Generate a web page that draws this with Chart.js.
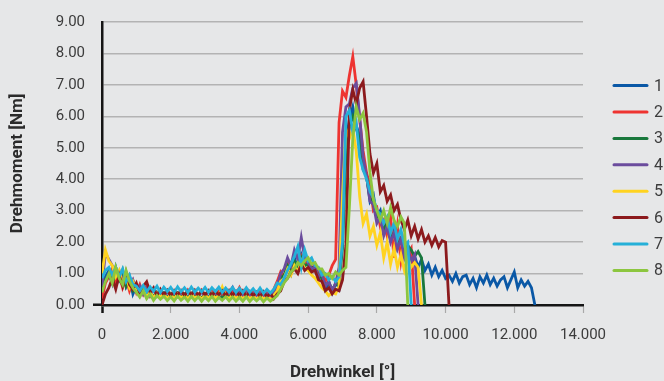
<!DOCTYPE html>
<html>
<head>
<meta charset="utf-8">
<script src="https://cdn.jsdelivr.net/npm/chart.js@4/dist/chart.umd.min.js"></script>
<style>
  html, body { margin: 0; padding: 0; background: #e6e7e8; }
  #wrap { width: 664px; height: 381px; }
</style>
</head>
<body>
<div id="wrap"><canvas id="c" width="664" height="381"></canvas></div>
<script>
// ---- data (torque in Nm, sampled every 100 units of Drehwinkel) ----
const angleStep = 100;
const seriesNames = ["1", "2", "3", "4", "5", "6", "7", "8"];
const seriesColors = ["#0a58a6", "#ee3431", "#19783c", "#6b4c9d", "#ffd320", "#8c1a1d", "#25b0d8", "#8cc63f"];
const xTicks = [0, 2000, 4000, 6000, 8000, 10000, 12000, 14000];
const yTicks = [0, 1, 2, 3, 4, 5, 6, 7, 8, 9];

const s1 = [
  0.3,0.9,1.1,0.7,1.2,0.8,1.05,0.6,0.9,0.35,
  0.6,0.3,0.55,0.25,0.45,0.22,0.4,0.28,0.38,0.2,
  0.35,0.22,0.38,0.25,0.33,0.2,0.36,0.24,0.32,0.21,
  0.34,0.22,0.37,0.25,0.31,0.2,0.35,0.23,0.33,0.22,
  0.32,0.2,0.36,0.22,0.3,0.18,0.33,0.21,0.3,0.2,
  0.4,0.55,0.95,0.8,1.3,1.0,1.5,1.15,1.6,1.3,
  1.35,1.1,1.25,0.85,0.95,0.5,0.75,0.4,0.7,0.55,
  2.5,5.2,5.9,6.3,5.7,5.4,4.3,4.1,3.3,3.5,
  2.8,3.0,2.4,2.7,2.1,2.4,1.8,2.1,1.6,1.8,
  1.3,1.55,1.2,1.45,1.1,1.3,0.95,1.2,0.9,1.1,
  0.85,0.95,0.75,1.0,0.7,0.9,0.95,0.65,0.85,0.55,
  0.9,0.7,0.95,0.65,0.85,0.6,0.8,0.9,0.55,0.8,
  1.05,0.55,0.8,0.6,0.75,0.55,0
];
const s2 = [
  0.2,0.7,0.9,1.15,0.7,1.0,0.55,0.85,0.45,0.75,
  0.4,0.65,0.35,0.6,0.3,0.5,0.33,0.45,0.3,0.42,
  0.3,0.46,0.32,0.45,0.3,0.48,0.33,0.44,0.3,0.47,
  0.32,0.45,0.5,0.3,0.44,0.33,0.47,0.3,0.45,0.34,
  0.55,0.32,0.47,0.3,0.45,0.28,0.42,0.3,0.4,0.28,
  0.5,0.75,1.05,0.9,1.4,1.15,1.35,1.1,1.55,1.3,
  1.45,1.15,1.3,1.0,1.1,0.75,0.95,1.25,1.45,5.8,
  6.8,6.6,7.3,7.9,7.0,5.9,4.9,4.2,3.8,3.0,
  3.1,2.5,2.7,2.2,2.8,1.5,2.5,1.4,2.1,1.6,
  1.8,0
];
const s3 = [
  0.5,0.8,0.95,0.7,1.05,0.8,1.1,0.6,0.85,0.45,
  0.55,0.3,0.5,0.28,0.45,0.25,0.4,0.27,0.38,0.24,
  0.36,0.24,0.38,0.26,0.35,0.23,0.37,0.25,0.34,0.22,
  0.35,0.23,0.36,0.25,0.33,0.22,0.35,0.24,0.32,0.21,
  0.34,0.22,0.33,0.2,0.32,0.23,0.3,0.21,0.31,0.2,
  0.3,0.55,0.85,0.95,1.25,1.05,1.4,1.2,1.5,1.25,
  1.3,1.2,1.15,0.95,0.85,0.65,0.7,0.5,0.65,0.7,
  1.8,4.8,5.7,6.0,5.6,5.3,4.4,4.1,3.4,3.2,
  2.8,2.9,2.4,2.6,2.1,2.3,1.9,2.1,1.7,1.9,
  1.75,1.55,1.7,1.5,0
];
const s4 = [
  0.6,1.65,1.45,1.25,1.0,1.1,0.8,1.0,0.6,0.8,
  0.45,0.6,0.35,0.55,0.3,0.5,0.32,0.45,0.28,0.42,
  0.28,0.42,0.27,0.4,0.3,0.43,0.26,0.4,0.28,0.41,
  0.27,0.42,0.3,0.4,0.26,0.44,0.3,0.4,0.56,0.32,
  0.4,0.26,0.38,0.27,0.36,0.25,0.37,0.24,0.35,0.26,
  0.4,0.6,1.0,1.15,1.5,1.25,1.75,1.45,2.15,1.5,
  1.35,1.15,1.2,0.9,1.0,0.6,0.75,0.45,0.7,1.2,
  5.5,6.3,6.4,6.9,7.05,6.0,4.7,4.1,3.3,3.2,
  2.6,2.8,2.2,2.5,2.0,2.3,1.8,2.1,1.5,1.8,
  1.4,1.6,0
];
const s5 = [
  1.0,1.75,1.4,1.25,0.9,1.1,0.65,0.9,0.55,0.75,
  0.5,0.3,0.48,0.25,0.42,0.22,0.38,0.24,0.35,0.2,
  0.33,0.2,0.35,0.22,0.32,0.19,0.34,0.21,0.31,0.18,
  0.32,0.2,0.34,0.22,0.3,0.57,0.28,0.2,0.32,0.21,
  0.3,0.19,0.32,0.2,0.29,0.18,0.3,0.19,0.27,0.18,
  0.3,0.45,0.75,0.85,1.15,0.95,1.25,1.05,1.4,1.15,
  1.1,0.95,0.85,0.7,0.55,0.45,0.3,0.4,0.35,0.6,
  3.5,5.6,5.3,5.6,4.9,3.45,2.6,2.9,2.2,2.5,
  1.9,2.3,1.5,2.0,1.3,1.8,1.2,1.6,1.1,1.5,
  1.2,1.35,1.2,0
];
const s6 = [
  0.0,0.35,0.55,0.85,0.5,0.95,0.6,1.05,0.65,0.5,
  0.7,0.35,0.6,0.74,0.4,0.55,0.3,0.5,0.32,0.47,
  0.3,0.45,0.32,0.46,0.3,0.44,0.33,0.47,0.3,0.45,
  0.32,0.46,0.3,0.44,0.33,0.45,0.29,0.46,0.31,0.44,
  0.3,0.45,0.28,0.43,0.3,0.41,0.27,0.42,0.26,0.38,
  0.2,0.35,0.45,0.75,0.85,1.05,1.15,1.0,1.3,1.1,
  1.2,1.05,1.1,0.8,0.75,0.45,0.55,0.35,0.5,0.45,
  0.8,1.9,6.2,6.85,6.4,6.9,7.1,6.0,4.8,4.2,
  4.5,3.6,3.8,3.3,3.5,3.0,3.2,2.7,2.4,2.7,
  2.2,2.5,2.1,2.4,2.0,2.2,1.9,2.15,1.85,2.05,
  2.0,0
];
const s7 = [
  0.85,1.1,1.2,0.95,1.2,0.9,1.15,0.75,0.95,0.65,
  0.6,0.45,0.62,0.42,0.58,0.44,0.6,0.4,0.57,0.43,
  0.56,0.4,0.58,0.42,0.55,0.4,0.57,0.41,0.54,0.42,
  0.56,0.4,0.55,0.43,0.57,0.4,0.54,0.41,0.56,0.4,
  0.53,0.39,0.55,0.4,0.52,0.38,0.54,0.37,0.5,0.38,
  0.5,0.7,0.65,0.85,1.1,1.3,1.55,1.86,1.2,1.75,
  1.4,1.5,1.25,1.2,0.95,1.0,0.8,0.9,0.75,0.9,
  2.0,6.0,6.2,5.5,5.8,4.7,4.3,4.0,3.6,3.4,
  3.0,2.9,2.6,2.8,2.3,2.6,2.1,2.4,1.9,2.0,
  0
];
const s8 = [
  0.4,0.75,1.0,0.7,1.2,0.85,0.65,1.1,0.75,0.55,
  0.4,0.25,0.45,0.2,0.35,0.15,0.3,0.18,0.28,0.14,
  0.26,0.13,0.28,0.15,0.25,0.12,0.27,0.14,0.26,0.12,
  0.25,0.14,0.27,0.12,0.24,0.15,0.26,0.13,0.25,0.12,
  0.24,0.12,0.26,0.11,0.23,0.13,0.24,0.1,0.22,0.12,
  0.2,0.3,0.5,0.7,0.85,1.05,1.15,1.35,1.25,1.4,
  1.5,1.3,1.35,1.15,1.15,0.95,1.0,0.85,1.05,0.95,
  1.1,1.2,3.1,5.3,6.3,5.9,6.1,5.5,4.2,3.35,
  3.0,2.7,3.0,2.6,3.1,2.7,2.5,2.8,2.6,0
];
const seriesValues = [s1, s2, s3, s4, s5, s6, s7, s8];

// ---- chart ----
const FONT = "Roboto, 'Liberation Sans', sans-serif";
const toPoints = vals => vals.map((v, i) => ({ x: i * angleStep, y: v }));
const fmtThousands = v => v === 0 ? "0" : String(v).replace(/\B(?=(\d{3})+(?!\d))/g, ".");

const legendPlugin = {
  id: "sideLegend",
  afterDraw(chart) {
    const ctx = chart.ctx;
    const opts = chart.options.plugins.sideLegend;
    ctx.save();
    chart.data.datasets.forEach((ds, i) => {
      const y = opts.top + i * opts.spacing;
      ctx.strokeStyle = ds.borderColor;
      ctx.lineWidth = 3;
      ctx.lineCap = "round";
      ctx.beginPath();
      ctx.moveTo(opts.left, y);
      ctx.lineTo(opts.left + opts.lineLength, y);
      ctx.stroke();
      ctx.fillStyle = "#3c3c3c";
      ctx.font = "16px " + FONT;
      ctx.textBaseline = "middle";
      ctx.textAlign = "left";
      ctx.fillText(ds.label, opts.left + opts.lineLength + 7, y + 1);
    });
    ctx.restore();
  }
};

new Chart(document.getElementById("c"), {
  type: "line",
  data: {
    datasets: seriesValues.map((vals, i) => ({
      label: seriesNames[i],
      data: toPoints(vals),
      borderColor: seriesColors[i],
      backgroundColor: seriesColors[i],
      borderWidth: 2.8,
      pointRadius: 0,
      tension: 0,
      fill: false,
      order: seriesValues.length - 1 - i
    }))
  },
  options: {
    responsive: false,
    animation: false,
    layout: { padding: { top: 22, right: 81, bottom: 0, left: 0 } },
    plugins: {
      legend: { display: false },
      tooltip: { enabled: false },
      sideLegend: { left: 614, top: 85.6, spacing: 26.4, lineLength: 33 }
    },
    scales: {
      x: {
        type: "linear",
        min: 0, max: 14000,
        afterBuildTicks: s => { s.ticks = xTicks.map(v => ({ value: v })); },
        afterFit: s => { s.height = 76; },
        border: { display: true, color: "#151515", width: 2.5 },
        grid: {
          drawOnChartArea: false,
          drawTicks: true,
          tickLength: 8,
          tickColor: c => c.tick && c.tick.value === 0 ? "#151515" : "#a9a9a9",
          tickWidth: c => c.tick && c.tick.value === 0 ? 2.5 : 1.2
        },
        ticks: {
          padding: 13,
          color: "#3c3c3c",
          font: { family: FONT, size: 15 },
          maxRotation: 0,
          callback: v => fmtThousands(v)
        },
        title: {
          display: true,
          text: "Drehwinkel [°]",
          color: "#2b2b2b",
          font: { family: FONT, size: 17, weight: "bold" },
          padding: { top: 0, bottom: -2 }
        }
      },
      y: {
        type: "linear",
        min: 0, max: 9,
        afterBuildTicks: s => { s.ticks = yTicks.map(v => ({ value: v })); },
        afterFit: s => { s.width = 102; },
        border: { display: true, color: "#151515", width: 2.5 },
        grid: {
          color: c => c.tick && c.tick.value === 0 ? "rgba(0,0,0,0)" : "#b3b3b3",
          lineWidth: 1.5,
          drawTicks: true,
          tickLength: 9,
          tickColor: c => c.tick && c.tick.value === 0 ? "#151515" : "rgba(0,0,0,0)",
          tickWidth: 2.5
        },
        ticks: {
          padding: 8,
          color: "#3c3c3c",
          font: { family: FONT, size: 15 },
          callback: v => Number(v).toFixed(2)
        },
        title: {
          display: true,
          text: "Drehmoment [Nm]",
          color: "#2b2b2b",
          font: { family: FONT, size: 17, weight: "bold" },
          padding: { top: 8, bottom: 0 }
        }
      }
    }
  },
  plugins: [legendPlugin]
});
</script>
</body>
</html>
